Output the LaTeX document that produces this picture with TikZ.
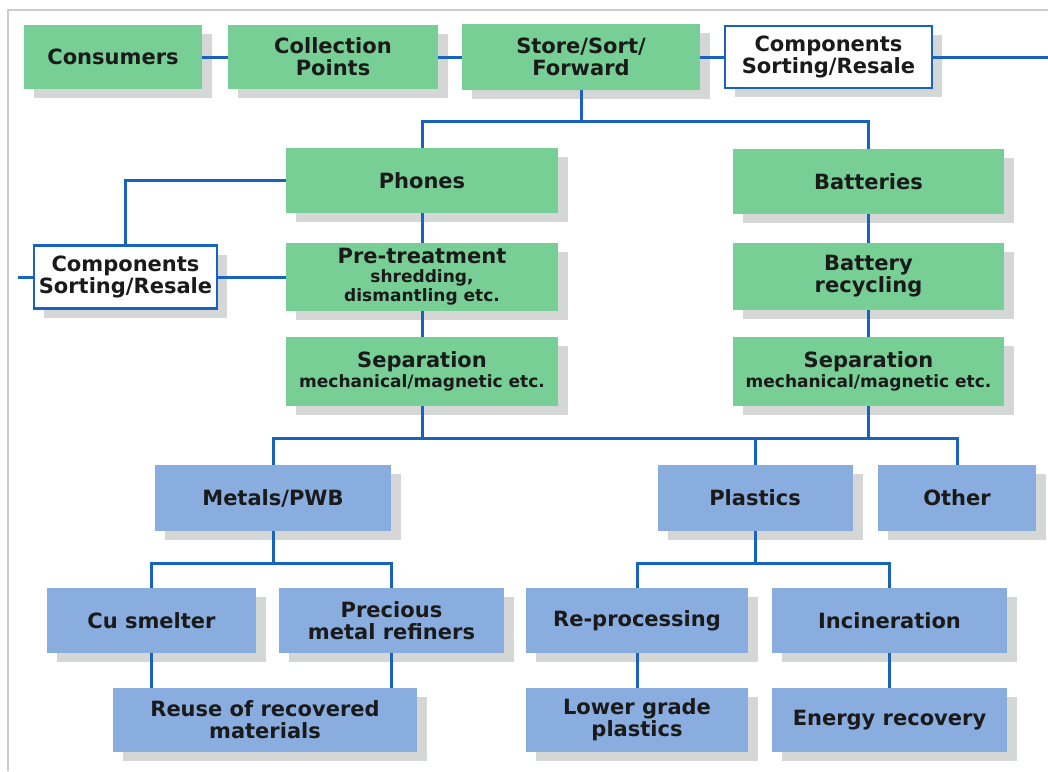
\documentclass[tikz,border=0pt]{standalone}
\usepackage{fontspec}
\setmainfont{DejaVu Sans}
\usetikzlibrary{shadows}

\definecolor{boxgreen}{HTML}{78CF96}
\definecolor{boxblue}{HTML}{8AADE0}
\definecolor{linkblue}{HTML}{1763BE}
\definecolor{shadowgray}{HTML}{D5D7D7}
\definecolor{framegray}{HTML}{CCCCCC}
\definecolor{textdark}{HTML}{1A1A1A}

\newcommand{\boxfont}{\bfseries\fontsize{21}{22}\selectfont}
\newcommand{\subfont}{\fontsize{17}{19}\selectfont}

\tikzset{
  box/.style={inner sep=0pt, align=center, text=textdark, font=\boxfont,
    drop shadow={shadow xshift=10pt, shadow yshift=-9pt, fill=shadowgray, opacity=1}},
  greenbox/.style={box, fill=boxgreen},
  bluebox/.style={box, fill=boxblue},
  whitebox/.style={box, fill=white, draw=linkblue, line width=2.8pt},
  link/.style={draw=linkblue, line width=3pt}
}

\begin{document}
\begin{tikzpicture}[x=1pt, y=-1pt]

\useasboundingbox[fill=white] (0,0) rectangle (1048,771);
\draw[framegray, line width=2pt] (1048,10) -- (8,10) -- (8,771);

\node[greenbox, minimum width=178pt, minimum height=64pt] (consumers) at (113,57) {Consumers};
\node[greenbox, minimum width=210pt, minimum height=64pt] (collection) at (333,57) {Collection\\Points};
\node[greenbox, minimum width=238pt, minimum height=66pt] (store) at (581,57) {Store/Sort/\\Forward};
\node[whitebox, minimum width=207pt, minimum height=62pt] (comptop) at (828.5,57) {Components\\Sorting/Resale};
\coordinate (compout) at (1048,57);

\node[greenbox, minimum width=272pt, minimum height=65pt] (phones) at (422,180.5) {Phones};
\node[greenbox, minimum width=272pt, minimum height=68pt] (pretreat) at (422,277) {Pre-treatment\\[-3pt]{\subfont shredding,}\\[-3pt]{\subfont dismantling etc.}};
\node[greenbox, minimum width=272pt, minimum height=69pt] (sepl) at (422,371.5) {Separation\\[-2pt]{\subfont mechanical/magnetic etc.}};
\node[whitebox, minimum width=183pt, minimum height=63pt] (compleft) at (125.5,277) {Components\\Sorting/Resale};
\coordinate (compin) at (18,277);

\node[greenbox, minimum width=271pt, minimum height=65pt] (batteries) at (868.5,181.5) {Batteries};
\node[greenbox, minimum width=271pt, minimum height=67pt] (battrec) at (868.5,276.5) {Battery\\recycling};
\node[greenbox, minimum width=271pt, minimum height=69pt] (sepr) at (868.5,371.5) {Separation\\[-2pt]{\subfont mechanical/magnetic etc.}};

\node[bluebox, minimum width=236pt, minimum height=66pt] (metals) at (273,498) {Metals/PWB};
\node[bluebox, minimum width=195pt, minimum height=66pt] (plastics) at (755,498) {Plastics};
\node[bluebox, minimum width=158pt, minimum height=66pt] (other) at (957,498) {Other};

\node[bluebox, minimum width=209pt, minimum height=65pt] (cu) at (151.5,620.5) {Cu smelter};
\node[bluebox, minimum width=225pt, minimum height=65pt] (precious) at (391.5,620.5) {Precious\\metal refiners};
\node[bluebox, minimum width=304pt, minimum height=64pt] (reuse) at (265,720) {Reuse of recovered\\materials};

\node[bluebox, minimum width=222pt, minimum height=65pt] (reproc) at (637,620.5) {Re-processing};
\node[bluebox, minimum width=235pt, minimum height=65pt] (incin) at (889.5,620.5) {Incineration};
\node[bluebox, minimum width=222pt, minimum height=64pt] (lower) at (637,720) {Lower grade\\plastics};
\node[bluebox, minimum width=235pt, minimum height=64pt] (energy) at (889.5,720) {Energy recovery};

\draw[link] (consumers) -- (collection);
\draw[link] (collection) -- (store);
\draw[link] (store) -- (comptop);
\draw[link] (comptop) -- (compout);

\draw[link] (store.south) -- ++(0,31) coordinate (bus1);
\draw[link] (phones.north) |- (bus1) -| (batteries.north);

\draw[link] (phones.west) -| (compleft.north);
\draw[link] (compleft) -- (pretreat);
\draw[link] (compleft.west) -- (compin);
\draw[link] (phones) -- (pretreat);
\draw[link] (pretreat) -- (sepl);
\draw[link] (batteries) -- (battrec);
\draw[link] (battrec) -- (sepr);

\draw[link] (sepl.south) -- ++(0,32) coordinate (bus2);
\draw[link] (metals.north) |- (bus2) -| (other.north);
\draw[link] (sepr.south) -- (sepr.south |- bus2);
\draw[link] (plastics.north) -- (plastics.north |- bus2);

\draw[link] (metals.south) -- ++(0,32) coordinate (bus3);
\draw[link] (cu.north) |- (bus3) -| (precious.north);
\draw[link] (cu.south) -- (cu.south |- reuse.north);
\draw[link] (precious.south) -- (precious.south |- reuse.north);

\draw[link] (plastics.south) -- ++(0,32) coordinate (bus4);
\draw[link] (reproc.north) |- (bus4) -| (incin.north);
\draw[link] (reproc) -- (lower);
\draw[link] (incin) -- (energy);

\end{tikzpicture}
\end{document}
